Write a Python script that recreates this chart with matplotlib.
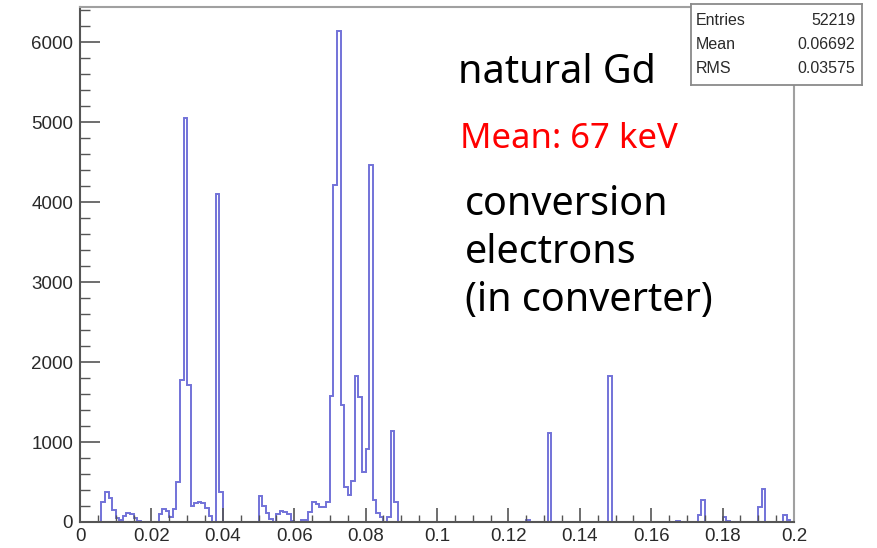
import matplotlib
matplotlib.use("Agg")
import matplotlib.pyplot as plt
from matplotlib.ticker import MultipleLocator, FuncFormatter
import numpy as np

# histogram: 200 bins of 0.001 between 0 and 0.2 (energy)
X_MIN, X_MAX, N_BINS = 0.0, 0.2, 200
counts = [
    0, 0, 0, 0, 0, 0, 255, 370, 295, 155, 50, 30, 70, 115, 95, 50, 10, 0, 0, 0,
    0, 0, 100, 165, 135, 60, 165, 500, 1780, 5050, 1710, 200, 240, 245, 240, 180, 80, 0, 4100, 370,
    0, 0, 0, 0, 0, 0, 0, 0, 0, 0, 320, 200, 110, 40, 0, 100, 140, 130, 100, 10,
    0, 0, 20, 30, 120, 250, 230, 190, 190, 250, 1580, 4220, 6140, 1465, 440, 340, 510, 1830, 1566, 620,
    910, 4462, 275, 112, 62, 0, 62, 1141, 254, 0, 0, 0, 0, 0, 0, 0, 0, 0, 0, 0,
    0, 0, 0, 0, 0, 0, 0, 0, 0, 0, 0, 0, 0, 0, 0, 0, 0, 0, 0, 0,
    0, 0, 0, 0, 0, 25, 0, 0, 0, 0, 0, 1110, 0, 0, 0, 0, 0, 0, 0, 0,
    0, 0, 0, 0, 0, 0, 0, 0, 1829, 0, 0, 0, 0, 0, 0, 0, 0, 0, 0, 0,
    0, 0, 0, 0, 0, 0, 0, 15, 0, 0, 0, 0, 0, 85, 270, 0, 0, 0, 0, 0,
    60, 17, 0, 0, 0, 0, 0, 0, 0, 0, 185, 415, 0, 0, 0, 0, 0, 90, 20, 0,
]
Y_MAX = 6440

# stats box
stat_names = ["Entries", "Mean", "RMS"]
stat_values = ["52219", "0.06692", "0.03575"]

# notes
titel = "natural Gd"
mean_note = "Mean: 67 keV"
note_lines = ["conversion", "electrons", "(in converter)"]

W, H = 877, 548
LINE = "#7272d8"
AXIS = "#555555"
FRAME = "#a0a0a0"

fig = plt.figure(figsize=(W / 100, H / 100), dpi=100)
fig.patch.set_facecolor("white")
ax = fig.add_axes([80 / W, 26 / H, 714 / W, 515 / H])

edges = np.linspace(X_MIN, X_MAX, N_BINS + 1)
ax.stairs(counts, edges, color=LINE, linewidth=1.4, baseline=0)

ax.set_xlim(X_MIN, X_MAX)
ax.set_ylim(0, Y_MAX)

# ROOT-like ticks (inside)
ax.xaxis.set_major_locator(MultipleLocator(0.02))
ax.xaxis.set_minor_locator(MultipleLocator(0.005))
ax.yaxis.set_major_locator(MultipleLocator(1000))
ax.yaxis.set_minor_locator(MultipleLocator(200))
ax.xaxis.set_major_formatter(FuncFormatter(lambda v, p: f"{v:g}" if abs(v) > 1e-9 else "0"))
ax.yaxis.set_major_formatter(FuncFormatter(lambda v, p: f"{v:g}"))

ax.tick_params(axis="x", which="major", direction="in", length=10, width=1.2,
               color=AXIS, labelsize=13.5, labelcolor="#2a2a2a", pad=4)
ax.tick_params(axis="x", which="minor", direction="in", length=5, width=1.0, color=AXIS)
ax.tick_params(axis="y", which="major", direction="in", length=14.5, width=1.2,
               color=AXIS, labelsize=13.5, labelcolor="#2a2a2a", pad=5)
ax.tick_params(axis="y", which="minor", direction="in", length=7.5, width=1.0, color=AXIS)
for lbl in ax.get_xticklabels() + ax.get_yticklabels():
    lbl.set_fontfamily("Liberation Sans")

for s in ["left", "bottom"]:
    ax.spines[s].set_color(AXIS)
    ax.spines[s].set_linewidth(1.5)
for s in ["top", "right"]:
    ax.spines[s].set_color(FRAME)
    ax.spines[s].set_linewidth(1.5)

# stats box (top right, sticks out of the frame)
sb = fig.add_axes([691 / W, 1 - 85 / H, 171 / W, 81 / H])
sb.set_xticks([]); sb.set_yticks([])
for s in sb.spines.values():
    s.set_color("#8a8a8a")
    s.set_linewidth(1.3)
for i, (n, v) in enumerate(zip(stat_names, stat_values)):
    yy = 0.80 - i * 0.30
    sb.text(0.03, yy, n, transform=sb.transAxes, ha="left", va="center",
            family="Liberation Sans", fontsize=11.5, color="#2a2a2a")
    sb.text(0.96, yy, v, transform=sb.transAxes, ha="right", va="center",
            family="Liberation Sans", fontsize=11.5, color="#2a2a2a")

# annotations (positions in pixels from top-left)
def tekst(x, y, s, size, color="black"):
    fig.text(x / W, 1 - y / H, s, ha="left", va="baseline",
             family="Noto Sans", fontsize=size, color=color)

tekst(458, 83, titel, 28.5)
tekst(460, 148, mean_note, 25, color="red")
for i, s in enumerate(note_lines):
    tekst(465, 215 + i * 48, s, 28.5)

fig.savefig("out.png", dpi=100)
